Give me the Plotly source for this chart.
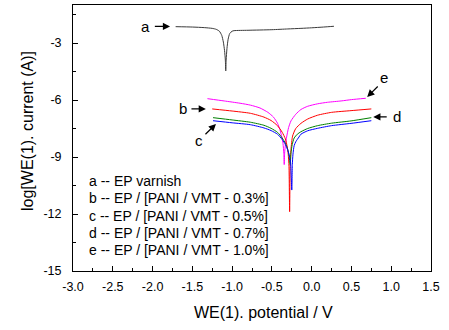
import plotly.graph_objects as go

# Potentiodynamic polarization curves: potential (V) vs log current (A)
E_a = [-1.71, -1.5, -1.35, -1.25, -1.2, -1.16, -1.13, -1.11, -1.095, -1.085, -1.08,
       -1.075, -1.065, -1.05, -1.03, -1.0, -0.975, -0.8, -0.5, -0.3, -0.135, 0.0, 0.15, 0.28]
I_a = [-2.14, -2.16, -2.19, -2.23, -2.28, -2.38, -2.6, -2.95, -3.4, -3.9, -4.47,
       -3.9, -3.3, -2.8, -2.5, -2.38, -2.35, -2.33, -2.3, -2.26, -2.23, -2.2, -2.16, -2.12]

E_b = [-1.25, -1.0, -0.77, -0.6, -0.51, -0.43, -0.37, -0.33, -0.31, -0.295, -0.285, -0.277,
       -0.27, -0.26, -0.24, -0.2, -0.135, -0.05, 0.075, 0.25, 0.495, 0.75]
I_b = [-6.47, -6.58, -6.7, -6.9, -7.08, -7.35, -7.7, -8.05, -8.4, -8.85, -9.5, -11.88,
       -9.4, -8.6, -7.9, -7.5, -7.23, -7.0, -6.8, -6.65, -6.56, -6.47]

E_c = [-1.24, -1.0, -0.77, -0.6, -0.51, -0.43, -0.37, -0.33, -0.3, -0.28, -0.265, -0.25,
       -0.243, -0.235, -0.22, -0.2, -0.16, -0.135, -0.05, 0.075, 0.25, 0.495, 0.75]
I_c = [-7.09, -7.2, -7.3, -7.47, -7.61, -7.8, -8.08, -8.35, -8.65, -8.95, -9.3, -10.74,
       -9.4, -8.85, -8.4, -8.2, -7.95, -7.8, -7.62, -7.49, -7.35, -7.23, -7.09]

E_d = [-1.24, -1.0, -0.77, -0.6, -0.51, -0.43, -0.37, -0.33, -0.3, -0.285, -0.27,
       -0.26, -0.245, -0.22, -0.18, -0.135, -0.05, 0.075, 0.25, 0.495, 0.75]
I_d = [-6.93, -7.05, -7.17, -7.33, -7.49, -7.7, -8.0, -8.28, -8.6, -8.9, -9.4,
       -8.8, -8.35, -8.0, -7.8, -7.67, -7.5, -7.35, -7.22, -7.1, -6.93]

E_e = [-1.31, -1.1, -0.9, -0.77, -0.65, -0.55, -0.48, -0.43, -0.4, -0.375, -0.36, -0.35, -0.345,
       -0.34, -0.33, -0.315, -0.29, -0.26, -0.2, -0.135, -0.05, 0.075, 0.2, 0.37, 0.5, 0.68]
I_e = [-5.93, -6.05, -6.17, -6.27, -6.42, -6.65, -6.9, -7.22, -7.55, -7.95, -8.3, -8.8, -9.4,
       -8.8, -8.35, -7.95, -7.45, -7.1, -6.75, -6.5, -6.33, -6.2, -6.12, -6.05, -5.98, -5.91]

legend_lines = [
    "a -- EP varnish",
    "b -- EP / [PANI / VMT - 0.3%]",
    "c -- EP / [PANI / VMT - 0.5%]",
    "d -- EP / [PANI / VMT - 0.7%]",
    "e -- EP / [PANI / VMT - 1.0%]",
]

x_ticks = [-3.0, -2.5, -2.0, -1.5, -1.0, -0.5, 0.0, 0.5, 1.0, 1.5]
y_ticks = [-3, -6, -9, -12, -15]

FONT = "Arial, Liberation Sans, sans-serif"

series = [
    (E_a, I_a, "#3a3a3a"),
    (E_e, I_e, "#ff00ff"),
    (E_b, I_b, "#ff0000"),
    (E_d, I_d, "#008000"),
    (E_c, I_c, "#0000ff"),
]

fig = go.Figure()
for xs, ys, col in series:
    fig.add_trace(go.Scatter(x=xs, y=ys, mode="lines",
                             line=dict(color=col, width=1, shape="spline", smoothing=0.6),
                             showlegend=False, hoverinfo="skip"))

annotations = []

# curve labels with arrows: (label, label_x, label_y, tail_x, tail_y, head_x, head_y)
labels = [
    ("a", -2.083, -2.13, -1.99, -2.13, -1.78, -2.13),
    ("b", -1.618, -6.47, -1.53, -6.47, -1.33, -6.47),
    ("c", -1.416, -8.12, -1.354, -7.88, -1.203, -7.26),
    ("d", 1.074, -6.89, 0.962, -6.89, 0.774, -6.89),
    ("e", 0.912, -4.84, 0.849, -5.21, 0.698, -5.84),
]
for txt, lx, ly, tx, ty, hx, hy in labels:
    annotations.append(dict(x=lx, y=ly, xref="x", yref="y", text=txt, showarrow=False,
                            xanchor="center", yanchor="middle",
                            font=dict(family=FONT, size=15, color="black")))
    annotations.append(dict(x=hx, y=hy, xref="x", yref="y", ax=tx, ay=ty,
                            axref="x", ayref="y", text="", showarrow=True,
                            arrowhead=2, arrowsize=1.2, arrowwidth=1.2, arrowcolor="black",
                            standoff=0, startstandoff=0))

# legend block
legend_y = [-10.26, -11.16, -12.11, -13.0, -13.89]
for txt, yy in zip(legend_lines, legend_y):
    annotations.append(dict(x=-2.83, y=yy, xref="x", yref="y", text=txt, showarrow=False,
                            xanchor="left", yanchor="middle",
                            font=dict(family=FONT, size=14, color="black")))

# axis titles (positions given in pixels, converted to paper fractions below)
annotations.append(dict(x=263, y=312, xref="paper", yref="paper", text="WE(1). potential / V",
                        showarrow=False, xanchor="center", yanchor="middle",
                        font=dict(family=FONT, size=16, color="black")))
annotations.append(dict(x=28, y=131, xref="paper", yref="paper", text="log[WE(1). current (A)]",
                        showarrow=False, textangle=-90, xanchor="center", yanchor="middle",
                        font=dict(family=FONT, size=16, color="black")))

W, H = 449, 330
ML, MR, MT, MB = 73, 18, 5, 59
pw, ph = W - ML - MR, H - MT - MB
for a in annotations:
    if a.get("xref") == "paper":
        a["x"] = (a["x"] - ML) / pw
        a["y"] = 1 - (a["y"] - MT) / ph

fig.update_layout(
    width=W, height=H,
    margin=dict(l=ML, r=MR, t=MT, b=MB, pad=0),
    paper_bgcolor="white", plot_bgcolor="white",
    font=dict(family=FONT, color="black"),
    annotations=annotations,
    xaxis=dict(range=[-3.0, 1.5], tickvals=x_ticks, ticktext=[f"{v:.1f}" for v in x_ticks],
               ticks="inside", ticklen=5, tickwidth=1, tickcolor="black",
               minor=dict(dtick=0.25, tick0=0, ticks="inside", ticklen=3, tickcolor="black"),
               showline=True, linecolor="black", linewidth=1, mirror=True,
               showgrid=False, zeroline=False, ticklabelstandoff=4,
               tickfont=dict(family=FONT, size=12.5, color="black")),
    yaxis=dict(range=[-15, -1], tickvals=y_ticks, ticktext=[str(v) for v in y_ticks],
               ticks="inside", ticklen=5, tickwidth=1, tickcolor="black",
               minor=dict(dtick=1.5, tick0=0, ticks="inside", ticklen=3, tickcolor="black"),
               showline=True, linecolor="black", linewidth=1, mirror=True,
               showgrid=False, zeroline=False, ticklabelstandoff=8,
               tickfont=dict(family=FONT, size=12.5, color="black")),
)

fig.write_html("out.html")
